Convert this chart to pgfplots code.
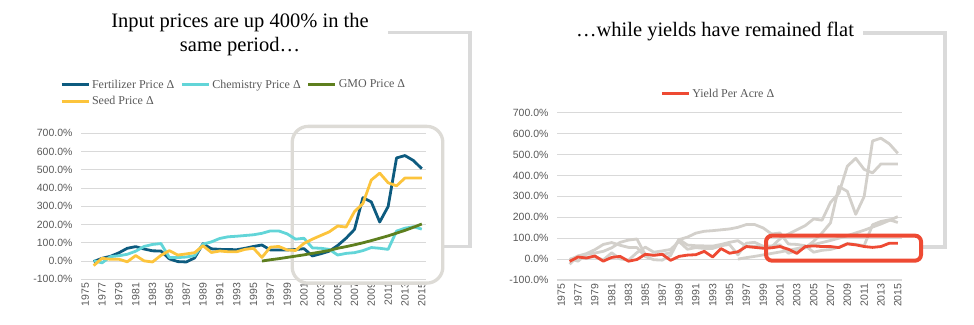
\documentclass[border=0pt]{standalone}
\usepackage{pgfplots}
\usepackage{pgfplotstable}
\pgfplotsset{compat=1.18}
\usepackage{fontspec}
\setmainfont{Liberation Serif}
\newfontfamily\sansf{Liberation Sans}

\definecolor{fertc}{HTML}{0D5B7F}
\definecolor{chemc}{HTML}{62D5D8}
\definecolor{gmoc}{HTML}{5E7F1E}
\definecolor{seedc}{HTML}{FCC43C}
\definecolor{yieldc}{HTML}{EE4A33}
\definecolor{grayline}{HTML}{D3D0CB}
\definecolor{boxgray}{HTML}{DDDBD6}
\definecolor{brackgray}{HTML}{DADADA}
\definecolor{gridc}{HTML}{D9D9D9}
\definecolor{labc}{HTML}{595959}
\definecolor{legc}{HTML}{595959}

\pgfplotstableread{
year fert chem seed yield
1976 -3 2 -25 -11
1977 15 -10 15 10
1978 26 24 10 5
1979 45 29 10 15
1980 70 37 -4 -10
1981 79 54 30 8
1982 66 80 1 13
1983 56 91 -5 -10
1984 55 96 31 -2
1985 12 20 57 23
1986 -3 19 33 18
1987 -5 22 39 23
1988 17 30 46 -6
1989 95 93 84 13
1990 67 105 47 19
1991 64 124 55 21
1992 63 133 51 37
1993 62 136 51 10
1994 70 140 64 50
1995 80 144 70 28
1996 88 152 20 35
1997 61 165 76 60
1998 61 165 80 56
1999 61 149 61 52
2000 63 120 58 54
2001 68 125 97 60
2002 28 72 120 47
2003 40 70 140 27
2004 54 64 160 60
2005 85 33 192 63
2006 125 42 186 60
2007 173 46 271 60
2008 347 57 315 55
2009 324 74 444 73
2010 214 70 482 68
2011 299 64 429 60
2012 565 164 412 56
2013 578 180 455 60
2014 551 188 455 76
2015 506 175 455 76
}\maindata

\pgfplotstableread{
year gmo
1996 0
1997 7
1998 13
1999 20
2000 27
2001 34
2002 42
2003 50
2004 58
2005 70
2006 79
2007 89
2008 100
2009 112
2010 125
2011 138
2012 153
2013 168
2014 185
2015 203
}\gmodata

\pgfplotsset{
  base/.style={
    scale only axis, width=345pt,
    xmin=1974.5, xmax=2015.5, ymin=-100, ymax=700,
    axis x line=bottom, axis y line=left,
    axis line style={draw=none},
    tick style={draw=none}, major tick length=0pt,
    ymajorgrids, grid style={gridc, line width=1.1pt},
    xtick={1975,1977,...,2015},
    ytick={-100,0,...,700},
    /pgf/number format/assume math mode=true,
    /pgf/number format/set thousands separator={},
    yticklabel={\pgfmathprintnumber[fixed,fixed zerofill,precision=1]{\tick}\%},
    ticklabel style={font=\sansf\fontsize{10.5}{12}\selectfont, text=labc},
    xticklabel style={rotate=90, anchor=east, xshift=0pt, yshift=0pt},
    yticklabel style={xshift=-5pt},
    clip=false,
    legend cell align=left,
    legend image code/.code={\draw[##1, line width=3pt] (0pt,0pt) -- (27pt,0pt);},
  },
  dline/.style={line width=2.8pt, line join=round, mark=none},
}

\begin{document}
\begin{tikzpicture}[x=1pt,y=1pt]
\path[use as bounding box] (0,0) rectangle (974,324);

% connector brackets
\draw[brackgray, line width=3.3pt] (388,291.3) -- (470,291.3) -- (470,77.3) -- (443,77.3);
\draw[brackgray, line width=3.3pt] (863,291) -- (945,291) -- (945,77) -- (921,77);

% titles
\node[anchor=base, font=\fontsize{20.5}{24}\selectfont, inner sep=0pt] at (240,296.3) {Input prices are up 400\% in the};
\node[anchor=base, font=\fontsize{20.5}{24}\selectfont, inner sep=0pt] at (240,272) {same period\ldots};
\node[anchor=base, font=\fontsize{20.5}{24}\selectfont, inner sep=0pt] at (715,287) {\ldots while yields have remained flat};

% left chart
\begin{axis}[base, at={(81pt,44.7pt)}, anchor=south west, height=146pt,
  legend columns=3,
  legend style={draw=none, fill=none, at={(-0.07,1.395)}, anchor=north west,
    font=\fontsize{12}{14}\selectfont, text=legc, row sep=2.5pt,
    /tikz/every even column/.append style={column sep=4pt}},
]
\draw[boxgray, line width=3.3pt, rounded corners=16pt] (axis cs:1999.6,738) rectangle (axis cs:2017.5,-121);
\addplot[dline, fertc] table[x=year, y=fert] {\maindata};
\addlegendentry{Fertilizer Price Δ}
\addplot[dline, chemc] table[x=year, y=chem] {\maindata};
\addlegendentry{Chemistry Price Δ}
\addplot[dline, gmoc] table[x=year, y=gmo] {\gmodata};
\addlegendentry{GMO Price Δ}
\addplot[dline, seedc] table[x=year, y=seed] {\maindata};
\addlegendentry{Seed Price Δ}
\end{axis}

% right chart
\begin{axis}[base, at={(557pt,44pt)}, anchor=south west, height=167.3pt,
  legend style={draw=none, fill=none, at={(0.29,1.112)}, anchor=west,
    font=\fontsize{12}{14}\selectfont, text=legc},
]
\addplot[dline, grayline, forget plot] table[x=year, y=chem] {\maindata};
\addplot[dline, grayline, forget plot] table[x=year, y=fert] {\maindata};
\addplot[dline, grayline, forget plot] table[x=year, y=gmo] {\gmodata};
\addplot[dline, grayline, forget plot] table[x=year, y=seed] {\maindata};
\addplot[dline, yieldc] table[x=year, y=yield] {\maindata};
\addlegendentry{Yield Per Acre Δ}
\draw[yieldc, line width=4pt, rounded corners=6pt] (axis cs:1999.34,112) rectangle (axis cs:2017.76,-7.5);
\end{axis}
\end{tikzpicture}
\end{document}
